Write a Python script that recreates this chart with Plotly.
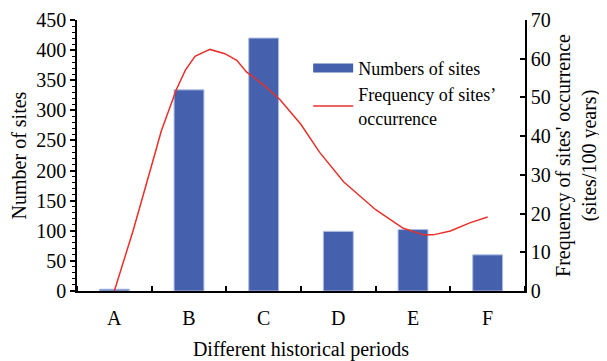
import plotly.graph_objects as go

categories = ["A", "B", "C", "D", "E", "F"]
site_counts = [3, 334, 420, 99, 102, 60]

# frequency curve (x in category units, y in sites/100 years)
freq_x = [0, 0.25, 0.5, 0.63, 0.83, 0.95, 1.08, 1.28, 1.48, 1.64, 1.77, 2.0,
          2.22, 2.5, 2.75, 3.07, 3.5, 3.87, 4.14, 4.27, 4.5, 4.76, 5.0]
freq_y = [0, 15.5, 32.5, 41.4, 52, 57, 60.6, 62.4, 61.3, 59.6, 56.6, 53.2,
          49.4, 43.0, 35.8, 28.2, 21.0, 16.2, 14.5, 14.5, 15.5, 17.6, 19.1]

FONT = "Liberation Serif"
BLUE = "#4561ae"
RED = "#e8302a"
FS = 20

fig = go.Figure()
fig.add_trace(go.Bar(
    x=list(range(len(categories))), y=site_counts, width=0.4,
    marker=dict(color=BLUE, line=dict(color="#aebde3", width=1)),
    showlegend=False, yaxis="y",
))
# legend entry for bars (wide rectangle like the reference)
fig.add_trace(go.Scatter(
    x=[None], y=[None], mode="lines", name="Numbers of sites",
    line=dict(color=BLUE, width=9), yaxis="y",
))
fig.add_trace(go.Scatter(
    x=freq_x, y=freq_y, mode="lines", name="Frequency of sites’<br>occurrence",
    line=dict(color=RED, width=1.5), yaxis="y2",
))

fig.update_layout(
    width=607, height=361,
    margin=dict(l=69, r=90, t=12, b=78),
    paper_bgcolor="white", plot_bgcolor="white",
    font=dict(family=FONT, size=FS, color="black"),
    showlegend=True,
    legend=dict(x=0.516, y=0.89, xanchor="left", yanchor="top",
                bgcolor="rgba(0,0,0,0)", font=dict(size=18, family=FONT),
                itemwidth=40, tracegroupgap=0),
    xaxis=dict(
        range=[-0.5, 5.5], tickvals=list(range(len(categories))), ticktext=categories,
        ticks="", showgrid=False, zeroline=False, automargin=False,
        showline=True, linecolor="black", linewidth=1.5,
        ticklabelstandoff=8,
        minor=dict(tick0=0.5, dtick=1, ticks="inside", ticklen=5, tickcolor="black", tickwidth=1.5),
        title=dict(text="Different historical periods", standoff=14, font=dict(size=FS)),
        tickfont=dict(size=FS),
    ),
    yaxis=dict(
        range=[0, 450], dtick=50, ticks="outside", ticklen=5, tickwidth=1.5, tickcolor="black",
        minor=dict(dtick=10, ticks="outside", ticklen=3, tickcolor="black", tickwidth=1),
        showgrid=False, zeroline=False, showline=True, linecolor="black", linewidth=1.5,
        automargin=False, ticklabeloverflow="allow",
        title=dict(text="Number of sites", standoff=4, font=dict(size=FS)),
        tickfont=dict(size=FS),
    ),
    yaxis2=dict(
        range=[0, 70], dtick=10, overlaying="y", side="right",
        ticks="inside", ticklen=5, tickwidth=1.5, tickcolor="black",
        showgrid=False, zeroline=False, showline=True, linecolor="black", linewidth=1.5,
        automargin=False, ticklabeloverflow="allow",
        title=dict(text="Frequency of sites' occurrence<br>(sites/100 years)", standoff=6, font=dict(size=FS)),
        tickfont=dict(size=FS),
    ),
)

fig.write_html("out.html")
